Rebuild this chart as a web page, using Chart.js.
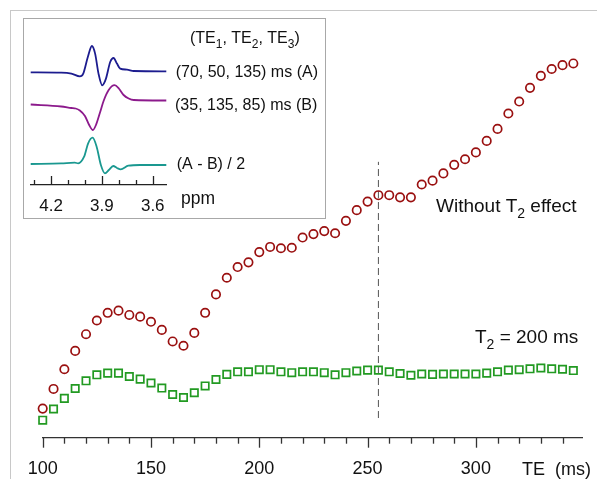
<!DOCTYPE html>
<html><head><meta charset="utf-8">
<script src="https://cdn.jsdelivr.net/npm/chart.js@4"></script>
<style>
html,body{margin:0;padding:0;background:#fff;}
#wrap{position:relative;width:597px;height:479px;overflow:hidden;background:#fff;}
#frame{position:absolute;left:10px;top:10px;width:700px;height:600px;border-left:1px solid #c8c8c8;border-top:1px solid #c8c8c8;}
#main{position:absolute;left:0;top:0;}
#insetBox{position:absolute;left:23px;top:18px;width:303px;height:201px;box-sizing:border-box;border:1px solid #a8a8a8;background:#fff;}
#inset{position:absolute;left:23px;top:18px;}
</style></head><body>
<div id="wrap">
<div id="frame"></div>
<canvas id="main" width="597" height="479"></canvas>
<div id="insetBox"></div>
<canvas id="inset" width="303" height="201"></canvas>
</div>
<script>
// ---------- main chart data (TE in ms, signal in arbitrary units) ----------
const teValues = [100,105,110,115,120,125,130,135,140,145,150,155,160,165,170,175,180,185,190,195,
                  200,205,210,215,220,225,230,235,240,245,250,255,260,265,270,275,280,285,290,295,
                  300,305,310,315,320,325,330,335,340,345];
const signalNoT2 = [6.8,11.4,16.0,20.3,24.2,27.4,29.2,29.7,28.7,28.3,27.1,25.2,22.5,21.5,24.5,29.2,33.5,37.4,39.9,41.0,
                    43.4,44.6,44.3,44.4,46.8,47.6,48.3,47.8,50.7,53.2,55.2,56.7,56.7,56.2,56.2,59.2,60.1,61.8,63.8,65.1,
                    66.7,69.4,72.2,75.8,78.6,81.8,84.6,86.2,87.1,87.5];
const signalT2 = [4.1,6.7,9.2,11.5,13.3,14.7,15.1,15.1,14.3,13.7,12.8,11.6,10.1,9.4,10.5,12.1,13.6,14.8,15.4,15.4,
                  15.9,15.9,15.4,15.2,15.4,15.4,15.2,14.7,15.2,15.6,15.8,15.8,15.4,15.0,14.6,14.9,14.8,14.9,14.9,14.9,
                  14.9,15.1,15.4,15.8,15.9,16.1,16.3,16.1,16.0,15.7];
const markerTE = [255, 255];
const markerSignal = [4.6, 64.5];
const teTicks = [100,110,120,130,140,150,160,170,180,190,200,210,220,230,240,250,260,270,280,290,300,310,320,330,340];
const teTickLabels = [100,150,200,250,300];

// ---------- inset spectra data (ppm, intensity in arbitrary units) ----------
const ppmA = [4.32,4.14,4.08,4.03,4.01,3.983,3.959,3.94,3.92,3.898,3.876,3.851,3.831,3.811,3.792,3.752,3.712,3.52];
const specA = [0,-0.3,-1.3,-4,-1.3,15.3,26.3,18.7,-1.3,-13,-6.3,10.3,14.3,8.7,3.7,2.7,1.3,1];
const ppmB = [4.32,4.14,4.08,4.055,4.03,4.0,3.975,3.953,3.935,3.912,3.89,3.86,3.825,3.80,3.772,3.742,3.712,3.52];
const specB = [0.5,-1.5,-3,-3.5,-5.5,-11,-20,-25,-20,-8,4,15,19.8,16.5,10,6.5,5,4.5];
const ppmC = [4.32,4.14,4.06,4.04,4.005,3.981,3.955,3.931,3.906,3.882,3.859,3.833,3.811,3.789,3.744,3.675,3.52];
const specC = [0,0.7,1.3,0.7,7.3,20.7,26.3,17.3,-1,-9.3,-6,-2,-4,-5.3,-1.7,-1,-1];
const ppmTicks = [4.3,4.2,4.1,4.0,3.9,3.8,3.7,3.6];
const ppmTickLabels = [4.2,3.9,3.6];

const FONT = '"Liberation Sans", Arial, Helvetica, sans-serif';

function drawRich(ctx, x, y, parts, size, color) {
  ctx.save();
  ctx.fillStyle = color || '#111';
  ctx.textAlign = 'left';
  ctx.textBaseline = 'alphabetic';
  let cx = x;
  parts.forEach(p => {
    const sub = Array.isArray(p);
    const t = sub ? p[0] : p;
    const fs = sub ? Math.round(size * 0.72) : size;
    ctx.font = fs + 'px ' + FONT;
    ctx.fillText(t, cx, y + (sub ? size * 0.3 : 0));
    cx += ctx.measureText(t).width;
  });
  ctx.restore();
}

const mainDecor = {
  id: 'mainDecor',
  afterDraw(chart) {
    const ctx = chart.ctx, xs = chart.scales.x, y0 = chart.chartArea.bottom;
    ctx.save();
    ctx.strokeStyle = '#333';
    ctx.lineWidth = 1.3;
    teTicks.forEach(v => {
      const px = Math.round(xs.getPixelForValue(v)) + 0.5;
      const len = teTickLabels.includes(v) ? 10 : 6;
      ctx.beginPath(); ctx.moveTo(px, y0); ctx.lineTo(px, y0 + len); ctx.stroke();
    });
    ctx.restore();
    drawRich(ctx, 436, 212, ['Without T', ['2'], ' effect'], 19);
    drawRich(ctx, 475, 343, ['T', ['2'], ' = 200 ms'], 19);
    drawRich(ctx, 522, 475, ['TE  (ms)'], 18);
  }
};

new Chart(document.getElementById('main'), {
  type: 'scatter',
  data: {
    datasets: [
      {
        label: 'Without T2 effect',
        data: teValues.map((t, i) => ({x: t, y: signalNoT2[i]})),
        pointStyle: 'circle', pointRadius: 4.2, borderWidth: 1.7,
        borderColor: '#9a1010', backgroundColor: 'rgba(255,255,255,0)', showLine: false, clip: false
      },
      {
        label: 'T2 = 200 ms',
        data: teValues.map((t, i) => ({x: t, y: signalT2[i]})),
        pointStyle: 'rect', pointRadius: 5.2, borderWidth: 1.7,
        borderColor: '#229a22', backgroundColor: 'rgba(255,255,255,0)', showLine: false, clip: false
      },
      {
        label: 'marker',
        data: markerTE.map((t, i) => ({x: t, y: markerSignal[i]})),
        showLine: true, pointRadius: 0, borderColor: '#555', borderWidth: 1, borderDash: [7, 4]
      }
    ]
  },
  options: {
    responsive: false, animation: false,
    layout: {padding: {left: 42.7, right: 15, top: 10, bottom: 0}},
    plugins: {legend: {display: false}, tooltip: {enabled: false}},
    scales: {
      x: {
        type: 'linear', min: 100, max: 349,
        afterBuildTicks: s => { s.ticks = teTicks.map(v => ({value: v})); },
        afterFit: s => { s.height = 41.3; },
        grid: {display: false, drawTicks: true, tickLength: 10},
        border: {display: true, color: '#333', width: 1.3},
        ticks: {padding: 10.4, color: '#111', autoSkip: false, maxRotation: 0,
                font: {family: FONT, size: 18},
                callback: v => teTickLabels.includes(v) ? String(v) : ''}
      },
      y: {type: 'linear', min: 0, max: 100, display: false}
    }
  },
  plugins: [mainDecor]
});

// ---------- inset ----------
const insetOffset = {A: 112.4, B: 79.7, C: 20.7};
const insetDecor = {
  id: 'insetDecor',
  afterDraw(chart) {
    const ctx = chart.ctx, xs = chart.scales.x, y0 = chart.chartArea.bottom;
    ctx.save();
    ctx.strokeStyle = '#222';
    ctx.lineWidth = 1.3;
    ppmTicks.forEach(v => {
      const px = Math.round(xs.getPixelForValue(v)) + 0.5;
      const len = ppmTickLabels.some(l => Math.abs(l - v) < 1e-6) ? 8.7 : 4.7;
      ctx.beginPath(); ctx.moveTo(px, y0); ctx.lineTo(px, y0 - len); ctx.stroke();
    });
    ctx.restore();
    drawRich(ctx, 167, 25.3, ['(TE', ['1'], ', TE', ['2'], ', TE', ['3'], ')'], 16);
    drawRich(ctx, 152.7, 58.5, ['(70, 50, 135) ms (A)'], 16);
    drawRich(ctx, 152, 92, ['(35, 135, 85) ms (B)'], 16);
    drawRich(ctx, 153.7, 151, ['(A - B) / 2'], 16);
    drawRich(ctx, 158, 186, ['ppm'], 17.5);
  }
};
const lineDs = (label, xs, ys, off, color) => ({
  label, data: xs.map((p, i) => ({x: p, y: ys[i] + off})),
  showLine: true, pointRadius: 0, borderColor: color, borderWidth: 1.8,
  cubicInterpolationMode: 'monotone', clip: false
});
new Chart(document.getElementById('inset'), {
  type: 'scatter',
  data: {
    datasets: [
      lineDs('(70, 50, 135) ms (A)', ppmA, specA, insetOffset.A, '#1c1c8f'),
      lineDs('(35, 135, 85) ms (B)', ppmB, specB, insetOffset.B, '#8c1a8c'),
      lineDs('(A - B) / 2', ppmC, specC, insetOffset.C, '#1a9890')
    ]
  },
  options: {
    responsive: false, animation: false,
    layout: {padding: {left: 7.7, right: 159.7, top: 10, bottom: 0}},
    plugins: {legend: {display: false}, tooltip: {enabled: false}},
    scales: {
      x: {
        type: 'linear', reverse: true, min: 3.52, max: 4.32,
        afterBuildTicks: s => { s.ticks = ppmTicks.map(v => ({value: v})); },
        afterFit: s => { s.height = 34.3; },
        grid: {display: false, drawTicks: true, tickLength: 4},
        border: {display: true, color: '#222', width: 1.3},
        ticks: {padding: 7, color: '#111', autoSkip: false, maxRotation: 0,
                font: {family: FONT, size: 17},
                callback: v => ppmTickLabels.some(l => Math.abs(l - v) < 1e-6) ? v.toFixed(1) : ''}
      },
      y: {type: 'linear', min: 0, max: 156.7, display: false}
    }
  },
  plugins: [insetDecor]
});
</script>
</body></html>
